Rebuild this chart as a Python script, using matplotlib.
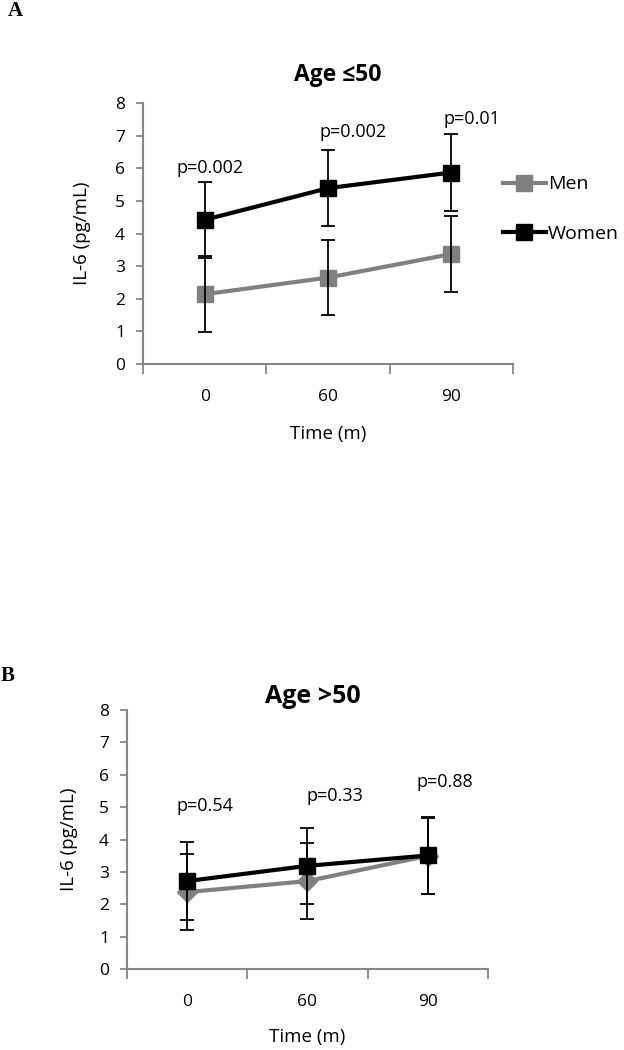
import matplotlib
matplotlib.use("Agg")
import matplotlib.pyplot as plt
import numpy as np

plt.rcParams['font.family'] = ['Open Sans', 'DejaVu Sans']

times = ["0", "60", "90"]

# panel A, age <= 50
men_a = [2.14, 2.65, 3.37]
men_a_sd = [1.17, 1.16, 1.17]
women_a = [4.42, 5.39, 5.87]
women_a_sd = [1.17, 1.16, 1.19]
p_a = ["p=0.002", "p=0.002", "p=0.01"]
p_a_pos = [(0.04, 6.0), (1.2, 7.12), (2.17, 7.5)]

# panel B, age > 50
men_b = [2.38, 2.72, 3.50]
men_b_sd = [1.18, 1.17, 1.18]
women_b = [2.72, 3.19, 3.51]
women_b_sd = [1.19, 1.18, 1.18]
p_b = ["p=0.54", "p=0.33", "p=0.88"]
p_b_pos = [(0.15, 5.05), (1.23, 5.35), (2.14, 5.79)]

GRAY = "#808080"
AXC = "#868686"


def draw_panel(ax, men, men_sd, women, women_sd, men_marker, pvals, ppos,
               title, title_pos, title_size):
    x = np.arange(len(times))
    ax.plot(x, men, color=GRAY, lw=3, marker=men_marker,
            ms=11 if men_marker == "s" else 10, zorder=2, label="Men")
    ax.errorbar(x, men, yerr=men_sd, fmt="none", ecolor="black",
                elinewidth=1.3, capsize=5, capthick=1.3, zorder=3)
    ax.plot(x, women, color="black", lw=3, marker="s", ms=11, zorder=4,
            label="Women")
    ax.errorbar(x, women, yerr=women_sd, fmt="none", ecolor="black",
                elinewidth=1.3, capsize=5, capthick=1.3, zorder=5)

    for txt, (px, py) in zip(pvals, ppos):
        ax.text(px, py, txt, ha="center", va="center", fontsize=13)

    ax.set_xlim(-0.5, len(times) - 0.5)
    ax.set_ylim(0, 8)
    ax.set_yticks(range(0, 9))
    ax.set_xticks(x)
    ax.set_xticklabels(times)
    ax.set_xticks(np.arange(-0.5, len(times)), minor=True)
    ax.tick_params(axis="x", which="major", length=0, pad=18, labelsize=12.5)
    ax.tick_params(axis="x", which="minor", length=7, width=1.3,
                   color=AXC, direction="out")
    ax.tick_params(axis="y", length=5, width=1.3, color=AXC, pad=8,
                   labelsize=12.5)
    for s in ["top", "right"]:
        ax.spines[s].set_visible(False)
    for s in ["left", "bottom"]:
        ax.spines[s].set_color(AXC)
        ax.spines[s].set_linewidth(1.5)

    ax.set_ylabel("IL-6 (pg/mL)", fontsize=13.5)
    ax.set_xlabel("Time (m)", fontsize=13.5)
    ax.text(title_pos[0], title_pos[1], title, transform=ax.transAxes,
            ha="center", va="center", fontsize=title_size, fontweight="bold")


fig = plt.figure(figsize=(6.24, 10.5), dpi=100)

ax1 = fig.add_axes([0.2292, 0.6533, 0.5929, 0.2486])
draw_panel(ax1, men_a, men_a_sd, women_a, women_a_sd, "s", p_a, p_a_pos,
           "Age \u226450", (0.527, 1.107), 16.5)
ax1.yaxis.set_label_coords(-0.14, 0.5)
ax1.xaxis.set_label_coords(0.5, -0.235)
ax1.legend(loc="center left", bbox_to_anchor=(0.806, 0.801),
           bbox_transform=fig.transFigure, frameon=False, fontsize=14,
           handlelength=2.2, handletextpad=0.1, labelspacing=1.6,
           borderpad=0, borderaxespad=0)

ax2 = fig.add_axes([0.2035, 0.0769, 0.5785, 0.247])
draw_panel(ax2, men_b, men_b_sd, women_b, women_b_sd, "D", p_b, p_b_pos,
           "Age >50", (0.515, 1.05), 18)
ax2.yaxis.set_label_coords(-0.135, 0.5)
ax2.xaxis.set_label_coords(0.5, -0.225)

fig.text(15 / 624, 1 - 11 / 1050, "A", family="Liberation Serif",
         fontweight="bold", fontsize=15, ha="center", va="center")
fig.text(8 / 624, 1 - 676 / 1050, "B", family="Liberation Serif",
         fontweight="bold", fontsize=15, ha="center", va="center")

fig.savefig("out.png", dpi=100)
